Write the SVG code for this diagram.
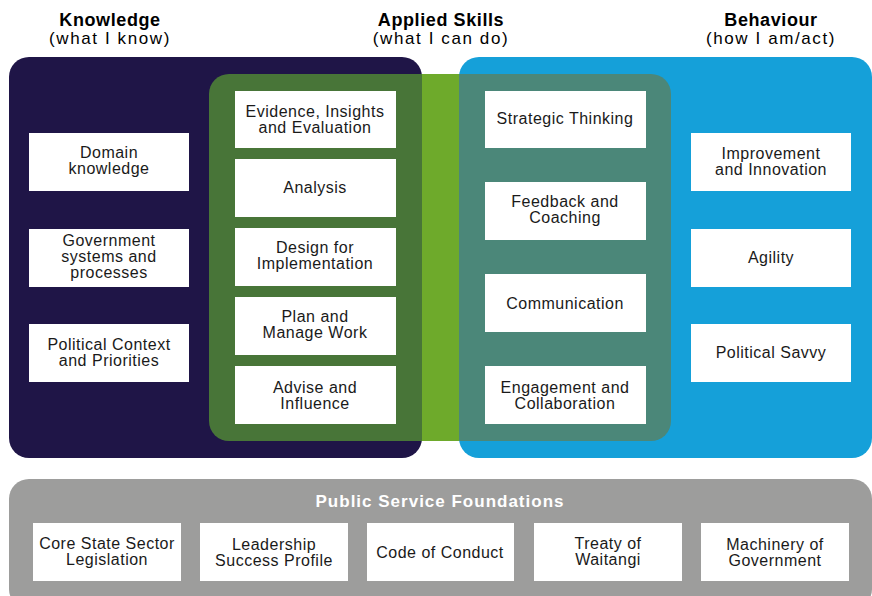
<svg xmlns="http://www.w3.org/2000/svg" width="872" height="596" viewBox="0 0 872 596">
<style>
.box{fill:#ffffff}
.t{font-family:"Liberation Sans",Arial,sans-serif;font-size:16px;letter-spacing:0.5px;fill:#1a1a1a;text-anchor:middle}
.h{font-family:"Liberation Sans",Arial,sans-serif;font-size:18px;letter-spacing:0.6px;font-weight:bold;fill:#000;text-anchor:middle}
.s{font-family:"Liberation Sans",Arial,sans-serif;font-size:17px;letter-spacing:1.6px;fill:#000;text-anchor:middle}
.f{font-family:"Liberation Sans",Arial,sans-serif;font-size:17px;letter-spacing:1px;font-weight:bold;fill:#ffffff;text-anchor:middle}
</style>
<rect width="872" height="596" fill="#ffffff"/>
<g id="headers">
<text class="h" x="110" y="26">Knowledge</text>
<text class="s" x="110" y="44">(what I know)</text>
<text class="h" x="441" y="26">Applied Skills</text>
<text class="s" x="441" y="44">(what I can do)</text>
<text class="h" x="771" y="26">Behaviour</text>
<text class="s" x="771" y="44">(how I am/act)</text>
</g>
<g id="knowledge-area"><rect x="9" y="57" width="413" height="401" rx="20" fill="#1f1547"/></g>
<g id="behaviour-area"><rect x="459" y="57" width="413" height="401" rx="20" fill="#15a0d9"/></g>
<g id="skills-area">
<path d="M229 74 H422 V441 H229 A20 20 0 0 1 209 421 V94 A20 20 0 0 1 229 74 Z" fill="#487538"/>
<rect x="422" y="74" width="37" height="367" fill="#6eaa2b"/>
<path d="M459 74 H651 A20 20 0 0 1 671 94 V421 A20 20 0 0 1 651 441 H459 Z" fill="#4b8779"/>
</g>
<g id="k1"><rect class="box" x="29" y="133" width="160" height="58"/><text class="t" x="109" y="158">Domain</text><text class="t" x="109" y="174">knowledge</text></g>
<g id="k2"><rect class="box" x="29" y="229" width="160" height="58"/><text class="t" x="109" y="246">Government</text><text class="t" x="109" y="262">systems and</text><text class="t" x="109" y="278">processes</text></g>
<g id="k3"><rect class="box" x="29" y="324" width="160" height="58"/><text class="t" x="109" y="350">Political Context</text><text class="t" x="109" y="366">and Priorities</text></g>
<g id="a1"><rect class="box" x="235" y="91" width="161" height="57"/><text class="t" x="315" y="117">Evidence, Insights</text><text class="t" x="315" y="133">and Evaluation</text></g>
<g id="a2"><rect class="box" x="235" y="159" width="161" height="58"/><text class="t" x="315" y="193">Analysis</text></g>
<g id="a3"><rect class="box" x="235" y="228" width="161" height="58"/><text class="t" x="315" y="253">Design for</text><text class="t" x="315" y="269">Implementation</text></g>
<g id="a4"><rect class="box" x="235" y="297" width="161" height="58"/><text class="t" x="315" y="322">Plan and</text><text class="t" x="315" y="338">Manage Work</text></g>
<g id="a5"><rect class="box" x="235" y="366" width="161" height="58"/><text class="t" x="315" y="393">Advise and</text><text class="t" x="315" y="409">Influence</text></g>
<g id="b1"><rect class="box" x="485" y="91" width="161" height="57"/><text class="t" x="565" y="124">Strategic Thinking</text></g>
<g id="b2"><rect class="box" x="485" y="182" width="161" height="58"/><text class="t" x="565" y="207">Feedback and</text><text class="t" x="565" y="223">Coaching</text></g>
<g id="b3"><rect class="box" x="485" y="274" width="161" height="58"/><text class="t" x="565" y="309">Communication</text></g>
<g id="b4"><rect class="box" x="485" y="366" width="161" height="58"/><text class="t" x="565" y="393">Engagement and</text><text class="t" x="565" y="409">Collaboration</text></g>
<g id="c1"><rect class="box" x="691" y="133" width="160" height="58"/><text class="t" x="771" y="159">Improvement</text><text class="t" x="771" y="175">and Innovation</text></g>
<g id="c2"><rect class="box" x="691" y="229" width="160" height="58"/><text class="t" x="771" y="263">Agility</text></g>
<g id="c3"><rect class="box" x="691" y="324" width="160" height="58"/><text class="t" x="771" y="358">Political Savvy</text></g>
<g id="foundations">
<rect x="9" y="479" width="863" height="130" rx="20" fill="#9d9d9c"/>
<text class="f" x="440" y="507">Public Service Foundations</text>
</g>
<g id="f1"><rect class="box" x="33" y="523" width="148" height="58"/><text class="t" x="107" y="549">Core State Sector</text><text class="t" x="107" y="565">Legislation</text></g>
<g id="f2"><rect class="box" x="200" y="523" width="148" height="58"/><text class="t" x="274" y="550">Leadership</text><text class="t" x="274" y="566">Success Profile</text></g>
<g id="f3"><rect class="box" x="367" y="523" width="147" height="58"/><text class="t" x="440" y="558">Code of Conduct</text></g>
<g id="f4"><rect class="box" x="534" y="523" width="148" height="58"/><text class="t" x="608" y="549">Treaty of</text><text class="t" x="608" y="565">Waitangi</text></g>
<g id="f5"><rect class="box" x="701" y="523" width="148" height="58"/><text class="t" x="775" y="550">Machinery of</text><text class="t" x="775" y="566">Government</text></g>
<g id="connectors"></g>
</svg>
